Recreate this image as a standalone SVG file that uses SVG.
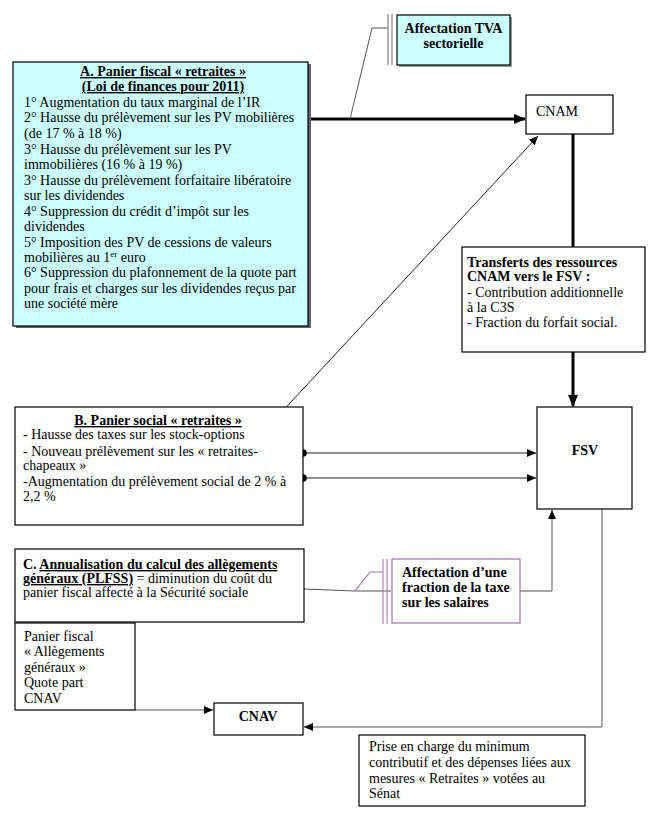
<svg xmlns="http://www.w3.org/2000/svg" width="666" height="813" viewBox="0 0 666 813">
<style>
  text { font-family: "Liberation Serif", "Times New Roman", serif; font-size: 14px; fill: #000; }
  .b { font-weight: bold; }
  .u { text-decoration: underline; }
  .box { fill: #fff; stroke: #000; stroke-width: 1.2; }
  .cyan { fill: #ccffff; stroke: #000; stroke-width: 1.2; }
  .thick { stroke: #000; stroke-width: 3; fill: none; }
  .thin { stroke: #222; stroke-width: 1; fill: none; }
  .gray { stroke: #555; stroke-width: 1; fill: none; }
  .purple { stroke: #a070b0; stroke-width: 1.2; fill: none; }
</style>
<defs>
  <marker id="ah" markerUnits="userSpaceOnUse" markerWidth="12" markerHeight="12" viewBox="0 0 12 12" refX="11" refY="6" orient="auto">
    <path d="M0,1 L12,6 L0,11 Z" fill="#000"/>
  </marker>
  <marker id="at" markerUnits="userSpaceOnUse" markerWidth="9" markerHeight="8" viewBox="0 0 9 8" refX="9" refY="4" orient="auto">
    <path d="M0,0 L9,4 L0,8 Z" fill="#000"/>
  </marker>
</defs>
<rect width="666" height="813" fill="#fff"/>

<g id="connectors">
  <line class="thick" x1="310" y1="119" x2="525" y2="119" marker-end="url(#ah)"/>
  <line class="thick" x1="573" y1="134" x2="573" y2="247"/>
  <line class="thick" x1="573" y1="352" x2="573" y2="406" marker-end="url(#ah)"/>
  <polyline class="gray" points="388,28 372,28 350,119"/>
  <line class="thin" x1="265" y1="430" x2="538" y2="136" marker-end="url(#at)"/>
  <circle cx="265" cy="430" r="3.8" fill="#000"/>
  <line class="thin" x1="303" y1="453" x2="536" y2="453" marker-end="url(#at)"/>
  <circle cx="303" cy="453" r="3.8" fill="#000"/>
  <line class="thin" x1="303" y1="478" x2="536" y2="478" marker-end="url(#at)"/>
  <circle cx="303" cy="478" r="3.8" fill="#000"/>
  <polyline class="gray" points="304,589 355,591 391,591"/>
  <polyline class="purple" points="383,572 370,572 355,591"/>
  <polyline class="gray" points="520,591 552,591 552,510" marker-end="url(#at)"/>
  <polyline class="gray" points="602,509 602,727 304,727" marker-end="url(#at)"/>
  <polyline class="gray" points="135,710 213,710" marker-end="url(#at)"/>
</g>

<g id="tva">
  <line x1="388" y1="14" x2="388" y2="65" stroke="#999" stroke-width="1.5"/>
  <line x1="392" y1="14" x2="392" y2="65" stroke="#999" stroke-width="1.5"/>
  <rect x="399" y="17" width="113" height="50" fill="#999"/>
  <rect class="cyan" x="397" y="15" width="113" height="50"/>
  <text class="b" x="453.5" y="33" text-anchor="middle" font-size="13">Affectation TVA</text>
  <text class="b" x="453.5" y="48" text-anchor="middle" font-size="13">sectorielle</text>
</g>

<g id="panierA">
  <rect x="16" y="64" width="295" height="264" fill="#666"/>
  <rect class="cyan" x="13" y="62" width="295" height="264"/>
  <text class="b u" x="163" y="76" text-anchor="middle">A. Panier fiscal « retraites »</text>
  <text class="b u" x="163" y="91" text-anchor="middle">(Loi de finances pour 2011)</text>
  <text x="24" y="107">1° Augmentation du taux marginal de l’IR</text>
  <text x="24" y="122">2° Hausse du prélèvement sur les PV mobilières</text>
  <text x="24" y="138">(de 17 % à 18 %)</text>
  <text x="24" y="154">3° Hausse du prélèvement sur les PV</text>
  <text x="24" y="169">immobilières (16 % à 19 %)</text>
  <text x="24" y="185">3° Hausse du prélèvement forfaitaire libératoire</text>
  <text x="24" y="200">sur les dividendes</text>
  <text x="24" y="216">4° Suppression du crédit d’impôt sur les</text>
  <text x="24" y="231">dividendes</text>
  <text x="24" y="247">5° Imposition des PV de cessions de valeurs</text>
  <text x="24" y="262">mobilières au 1<tspan font-size="9" dy="-5">er</tspan><tspan dy="5"> euro</tspan></text>
  <text x="24" y="277">6° Suppression du plafonnement de la quote part</text>
  <text x="24" y="293">pour frais et charges sur les dividendes reçus par</text>
  <text x="24" y="308">une société mère</text>
</g>

<g id="cnam">
  <rect class="box" x="526" y="95" width="87" height="39"/>
  <text x="536" y="116" font-size="16.5">CNAM</text>
</g>

<g id="transferts">
  <rect class="box" x="462" y="247" width="183" height="105"/>
  <text class="b" x="467" y="267" font-size="12.5">Transferts des ressources</text>
  <text class="b" x="467" y="281" font-size="12.5">CNAM vers le FSV :</text>
  <text x="467" y="297" font-size="13.5">- Contribution additionnelle</text>
  <text x="467" y="312" font-size="13.5">à la C3S</text>
  <text x="467" y="327" font-size="13.5">- Fraction du forfait social.</text>
</g>

<g id="panierB">
  <rect class="box" x="15" y="407" width="288" height="118"/>
  <text class="b u" x="158" y="425" text-anchor="middle">B. Panier social « retraites »</text>
  <text x="23" y="439">- Hausse des taxes sur les stock-options</text>
  <text x="23" y="456">- Nouveau prélèvement sur les « retraites-</text>
  <text x="23" y="470">chapeaux »</text>
  <text x="23" y="486">-Augmentation du prélèvement social de 2 % à</text>
  <text x="23" y="501">2,2 %</text>
</g>

<g id="fsv">
  <rect class="box" x="537" y="407" width="95" height="102"/>
  <text class="b" x="585" y="455" text-anchor="middle" font-size="13">FSV</text>
</g>

<g id="annualisation">
  <rect class="box" x="15" y="549" width="289" height="73"/>
  <text x="23" y="569"><tspan class="b">C. </tspan><tspan class="b u">Annualisation du calcul des allègements</tspan></text>
  <text x="23" y="583"><tspan class="b u">généraux (PLFSS)</tspan> = diminution du coût du</text>
  <text x="23" y="597">panier fiscal affecté à la Sécurité sociale</text>
</g>

<g id="taxe">
  <line x1="383" y1="559" x2="383" y2="624" stroke="#a070b0" stroke-width="1"/>
  <line x1="387" y1="559" x2="387" y2="624" stroke="#a070b0" stroke-width="1"/>
  <rect x="392" y="559" width="128" height="64" fill="#fff" stroke="#a070b0" stroke-width="1.2"/>
  <text class="b" x="402" y="577" font-size="13">Affectation d’une</text>
  <text class="b" x="402" y="592" font-size="13">fraction de la taxe</text>
  <text class="b" x="402" y="607" font-size="13">sur les salaires</text>
</g>

<g id="allegements">
  <rect class="box" x="15" y="623" width="120" height="87"/>
  <text x="24" y="641">Panier fiscal</text>
  <text x="24" y="656">« Allègements</text>
  <text x="24" y="672">généraux »</text>
  <text x="24" y="687">Quote part</text>
  <text x="24" y="703">CNAV</text>
</g>

<g id="cnav">
  <rect class="box" x="214" y="703" width="89" height="32"/>
  <text class="b" x="258" y="721" text-anchor="middle" font-size="13">CNAV</text>
</g>

<g id="prise">
  <rect class="box" x="359" y="735" width="226" height="71"/>
  <text x="369" y="751">Prise en charge du minimum</text>
  <text x="369" y="767">contributif et des dépenses liées aux</text>
  <text x="369" y="783">mesures « Retraites » votées au</text>
  <text x="369" y="798">Sénat</text>
</g>
</svg>
